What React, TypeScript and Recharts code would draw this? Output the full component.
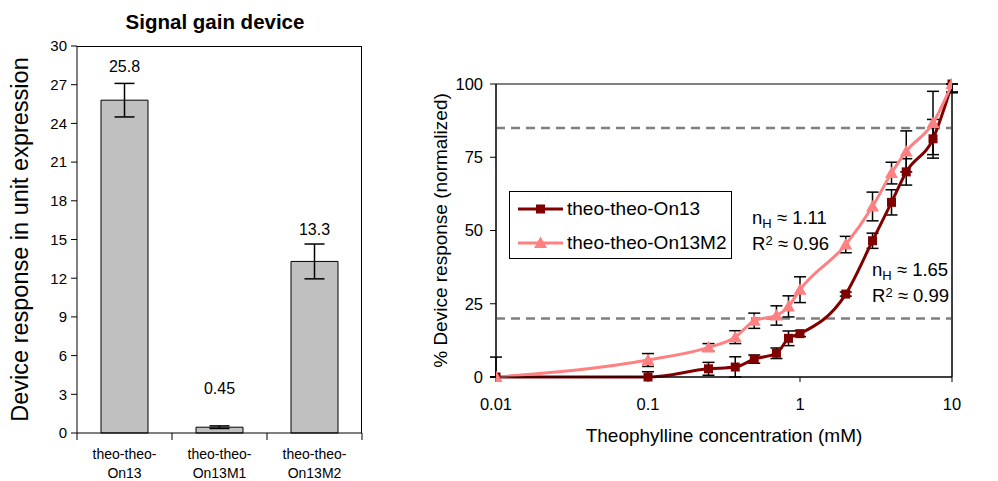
import React from "react";
import {
  BarChart,
  Bar,
  XAxis,
  YAxis,
  ErrorBar,
  LabelList,
  ReferenceArea,
  ReferenceLine,
  LineChart,
  Line,
} from "recharts";

const FONT = '"Liberation Sans", Arial, Helvetica, sans-serif';

// left panel: signal gain
const devices = ["theo-theo-On13", "theo-theo-On13M1", "theo-theo-On13M2"];
const gain = [25.8, 0.45, 13.3];
const gainErr = [1.3, 0.1, 1.35];
const gainTicks = [0, 3, 6, 9, 12, 15, 18, 21, 24, 27, 30];

// right panel: dose response
const conc = [0.01, 0.1, 0.25, 0.375, 0.5, 0.7, 0.84, 1, 2, 3, 4, 5, 7.5, 10];
const on13 = [0, 0, 2.8, 3.4, 6.1, 8.1, 13.2, 14.8, 28.3, 46.5, 59.6, 70, 81.3, 100];
const on13Err = [6.8, 1.8, 2.2, 3.5, 1.4, 1.8, 2.5, 1, 0.7, 2.6, 4.3, 4.5, 6.6, 3];
const on13M2 = [0, 5.8, 10.1, 13.6, 19.2, 21, 24.1, 29.8, 45.2, 58.2, 69.6, 77, 86.7, 100];
const on13M2Err = [0, 2.2, 1.3, 2.2, 2.6, 3.3, 3.6, 4.4, 2.8, 4.9, 3.7, 7, 10.8, 2.7];
const concTicks = [0.01, 0.1, 1, 10];
const pctTicks = [0, 25, 50, 75, 100];
const thresholds = [85, 20];

const DARK = "#800000";
const PINK = "#FF8080";

// bars sit at the middle of each category slot on a 0..n numeric axis
const barData = devices.map((name, i) => ({ slot: i + 0.5, name, value: gain[i], err: gainErr[i] }));
const slotEdges = devices.map((_, i) => i).concat(devices.length);
const gainMax = gainTicks[gainTicks.length - 1];

// error whiskers are cut at the 0..100 frame, like the original plot
const clipErr = (v: number, e: number) => [Math.min(e, v), Math.min(e, 100 - v)];
const doseData = conc.map((c, i) => ({
  conc: c,
  on13: on13[i],
  on13Err: clipErr(on13[i], on13Err[i]),
  m2: on13M2[i],
  m2Err: clipErr(on13M2[i], on13M2Err[i]),
}));

// extra lift for the value labels above each bar
const LABEL_LIFT = [28, 33, 26];

const sideLabel = (text: string, fromLeft: number, size: number) => (props: any) => {
  const vb = props.viewBox || {};
  const cx = vb.x + fromLeft;
  const cy = vb.y + vb.height / 2;
  return (
    <text
      x={cx}
      y={cy}
      transform={`rotate(-90 ${cx} ${cy})`}
      textAnchor="middle"
      dominantBaseline="central"
      fontSize={size}
      fill="#000"
    >
      {text}
    </text>
  );
};

const Square = (props: any) => {
  const { cx, cy } = props;
  if (cx == null || cy == null) return null;
  return <rect x={cx - 4.5} y={cy - 4.5} width={9} height={9} fill={DARK} />;
};

const Triangle = (props: any) => {
  const { cx, cy } = props;
  if (cx == null || cy == null) return null;
  return <path d={`M${cx},${cy - 6.5} L${cx + 6.5},${cy + 5} L${cx - 6.5},${cy + 5} Z`} fill={PINK} />;
};

const LegendBox = () => (
  <div
    style={{
      position: "absolute",
      left: 509,
      top: 191,
      width: 221,
      height: 66,
      border: "1px solid #000",
      background: "#fff",
      fontSize: 19,
      color: "#000",
      boxSizing: "content-box",
    }}
  >
    {[
      { label: "theo-theo-On13", color: DARK, tri: false },
      { label: "theo-theo-On13M2", color: PINK, tri: true },
    ].map((it, i) => (
      <div key={it.label} style={{ position: "absolute", left: 7, top: 4 + i * 34, height: 26, display: "flex", alignItems: "center", whiteSpace: "nowrap" }}>
        <svg width={47} height={14} style={{ marginRight: 3 }}>
          <line x1={1} y1={7} x2={46} y2={7} stroke={it.color} strokeWidth={3} />
          {it.tri ? (
            <path d="M23.5,0.5 L30,12 L17,12 Z" fill={it.color} />
          ) : (
            <rect x={19} y={2.5} width={9} height={9} fill={it.color} />
          )}
        </svg>
        {it.label}
      </div>
    ))}
  </div>
);

const Hill = ({ left, top, n, r2 }: { left: number; top: number; n: string; r2: string }) => (
  <div style={{ position: "absolute", left, top, fontSize: 18.5, color: "#000", whiteSpace: "nowrap" }}>
    <div style={{ height: 26, lineHeight: "26px" }}>
      n<sub style={{ fontSize: 13, verticalAlign: "-4px", lineHeight: 0 }}>H</sub> ≈ {n}
    </div>
    <div style={{ height: 26, lineHeight: "26px" }}>
      R<sup style={{ fontSize: 13, verticalAlign: "5px", lineHeight: 0 }}>2</sup> ≈ {r2}
    </div>
  </div>
);

export default function App() {
  return (
    <div
      style={{
        position: "absolute",
        left: 0,
        top: 0,
        width: 998,
        height: 481,
        background: "#fff",
        fontFamily: FONT,
        overflow: "hidden",
      }}
    >
      <div
        style={{
          position: "absolute",
          left: 100,
          width: 230,
          top: 10,
          textAlign: "center",
          fontWeight: "bold",
          fontSize: 20.5,
        }}
      >
        Signal gain device
      </div>

      <div style={{ position: "absolute", left: 0, top: 0 }}>
        <BarChart
          width={380}
          height={481}
          data={barData}
          margin={{ top: 46, right: 18, bottom: 0, left: 0 }}
        >
          <XAxis
            dataKey="slot"
            type="number"
            domain={[0, devices.length]}
            ticks={slotEdges}
            tickFormatter={() => ""}
            tickSize={7}
            height={48}
            axisLine={{ stroke: "#000" }}
            tickLine={{ stroke: "#000" }}
          />
          <YAxis
            domain={[0, gainMax]}
            ticks={gainTicks}
            width={77}
            tickSize={6}
            tickMargin={4}
            axisLine={{ stroke: "#000" }}
            tickLine={{ stroke: "#000" }}
            tick={{ fill: "#000", fontSize: 15 }}
            label={sideLabel("Device response in unit expression", 20, 23.5)}
          />
          <Bar dataKey="value" barSize={47} fill="#C0C0C0" stroke="#000" strokeWidth={1} isAnimationActive={false}>
            <ErrorBar dataKey="err" direction="y" width={10} stroke="#000" strokeWidth={1.5} />
            <LabelList
              dataKey="value"
              content={(p: any) => (
                <text
                  x={p.x + p.width / 2}
                  y={p.y - LABEL_LIFT[p.index]}
                  textAnchor="middle"
                  fontSize={16}
                  fill="#000"
                >
                  {p.value}
                </text>
              )}
            />
            <LabelList
              dataKey="name"
              content={(p: any) => {
                const s = String(p.value);
                const cx = p.x + p.width / 2;
                const base = p.y + p.height;
                return (
                  <text x={cx} y={base} textAnchor="middle" fontSize={14} fill="#000">
                    <tspan x={cx} dy={26}>{s.slice(0, 10)}</tspan>
                    <tspan x={cx} dy={19}>{s.slice(10)}</tspan>
                  </text>
                );
              }}
            />
          </Bar>
        </BarChart>
        {/* top and right edge of the plot frame */}
        <div
          style={{
            position: "absolute",
            left: 77,
            top: 46,
            width: 285,
            height: 387,
            borderTop: "1px solid #000",
            borderRight: "1px solid #000",
            boxSizing: "border-box",
            pointerEvents: "none",
          }}
        />
      </div>

      <div style={{ position: "absolute", left: 400, top: 0 }}>
        <LineChart width={598} height={481} data={doseData} margin={{ top: 84, right: 0, bottom: 34, left: 0 }}>
          <XAxis
            dataKey="conc"
            type="number"
            scale="log"
            domain={[0.01, 10]}
            ticks={concTicks}
            allowDataOverflow
            height={70}
            tickSize={5}
            tickMargin={16}
            axisLine={{ stroke: "#000" }}
            tickLine={{ stroke: "#000" }}
            tick={{ fill: "#000", fontSize: 16.5 }}
            tickFormatter={(v: number) => String(v)}
            label={{ value: "Theophylline concentration (mM)", position: "insideBottom", offset: 5, fill: "#000", fontSize: 19 }}
          />
          <YAxis
            yAxisId="l"
            domain={[0, 100]}
            ticks={pctTicks}
            width={96}
            tickSize={6}
            tickMargin={7}
            axisLine={{ stroke: "#000" }}
            tickLine={{ stroke: "#000" }}
            tick={{ fill: "#000", fontSize: 16.5 }}
            label={sideLabel("% Device response (normalized)", 40, 19)}
          />
          <YAxis
            yAxisId="r"
            orientation="right"
            domain={[0, 100]}
            ticks={thresholds}
            width={46}
            tickSize={6}
            tickMargin={4}
            axisLine={{ stroke: "#000" }}
            tickLine={{ stroke: "#000" }}
            tick={{ fill: "#000", fontSize: 17 }}
            tickFormatter={(v: number) => `${v}%`}
          />
          <ReferenceArea yAxisId="l" x1={0.01} x2={10} y1={0} y2={100} fill="none" stroke="#000" />
          {thresholds.map((t) => (
            <ReferenceLine key={t} yAxisId="l" y={t} stroke="#808080" strokeWidth={2.5} strokeDasharray="9 6" />
          ))}
          <Line
            yAxisId="l"
            dataKey="on13"
            type="monotone"
            stroke={DARK}
            strokeWidth={3}
            dot={<Square />}
            isAnimationActive={false}
          >
            <ErrorBar dataKey="on13Err" direction="y" width={6} stroke="#000" strokeWidth={1.5} />
          </Line>
          <Line
            yAxisId="l"
            dataKey="m2"
            type="monotone"
            stroke={PINK}
            strokeWidth={3}
            dot={<Triangle />}
            isAnimationActive={false}
          >
            <ErrorBar dataKey="m2Err" direction="y" width={6} stroke="#000" strokeWidth={1.5} />
          </Line>
        </LineChart>
      </div>

      <LegendBox />
      <Hill left={752} top={205} n="1.11" r2="0.96" />
      <Hill left={872} top={257} n="1.65" r2="0.99" />
    </div>
  );
}
